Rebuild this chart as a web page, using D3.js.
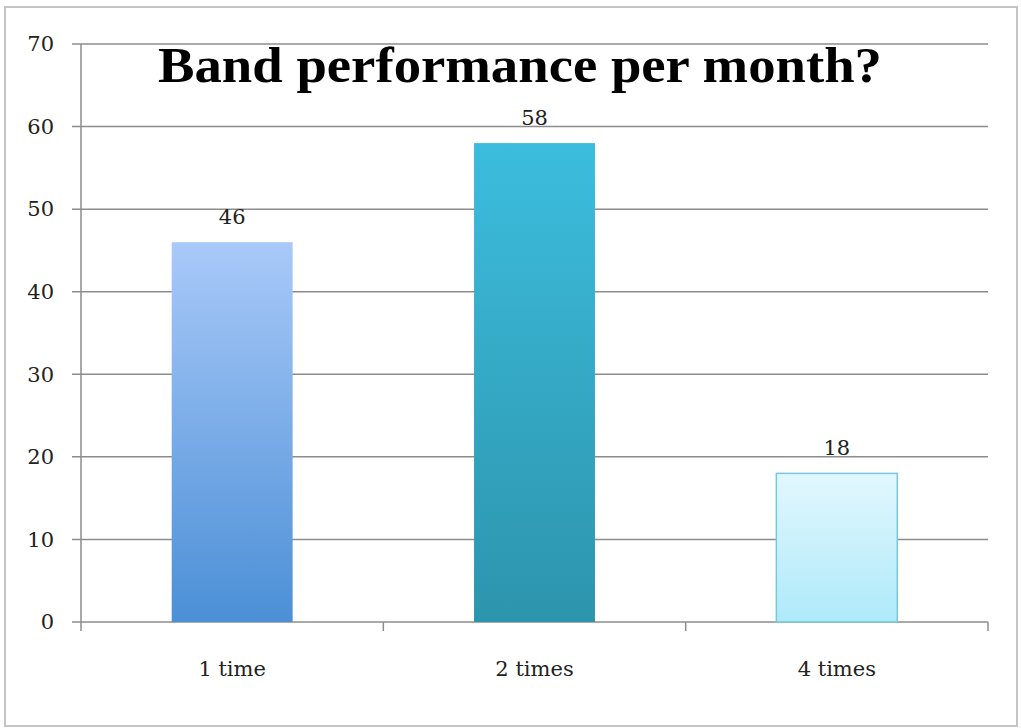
<!DOCTYPE html>
<html>
<head>
<meta charset="utf-8">
<script src="https://cdn.jsdelivr.net/npm/d3@7"></script>
<style>
  body { margin: 0; background: #fff; }
  svg { display: block; }
</style>
</head>
<body>
<svg id="chart" width="1021" height="728"></svg>
<script>
const categories = ["1 time", "2 times", "4 times"];
const values = [46, 58, 18];
const yTicks = [0, 10, 20, 30, 40, 50, 60, 70];
const title = "Band performance per month?";

const width = 1021, height = 728;
const margin = { top: 44, right: 33, bottom: 106, left: 81 };
const font = "'DejaVu Serif', 'Liberation Serif', serif";
const titleFont = "'Liberation Serif', 'DejaVu Serif', serif";

const fills = [
  { top: "#a9c9f9", bottom: "#4b8fd6", stroke: "none" },
  { top: "#3cbddd", bottom: "#2d94ad", stroke: "none" },
  { top: "#e2f7fe", bottom: "#aeeaf9", stroke: "#7cc6d9" }
];

const svg = d3.select("#chart");

// outer frame
svg.append("rect")
  .attr("x", 5).attr("y", 7)
  .attr("width", width - 9).attr("height", height - 9)
  .attr("fill", "none")
  .attr("stroke", "#c4c4c4")
  .attr("stroke-width", 2);

const defs = svg.append("defs");
fills.forEach((f, i) => {
  const g = defs.append("linearGradient")
    .attr("id", `grad${i}`)
    .attr("x1", 0).attr("y1", 0).attr("x2", 0).attr("y2", 1);
  g.append("stop").attr("offset", "0%").attr("stop-color", f.top);
  g.append("stop").attr("offset", "100%").attr("stop-color", f.bottom);
});

const x = d3.scaleBand()
  .domain(categories)
  .range([margin.left, width - margin.right])
  .paddingInner(0)
  .paddingOuter(0);

const y = d3.scaleLinear()
  .domain([0, 70])
  .range([height - margin.bottom, margin.top]);

// grid lines
svg.append("g")
  .attr("class", "grid")
  .selectAll("line")
  .data(yTicks)
  .join("line")
  .attr("x1", margin.left - 9)
  .attr("x2", width - margin.right)
  .attr("y1", d => y(d)).attr("y2", d => y(d))
  .attr("stroke", "#8c8c8c")
  .attr("stroke-width", 1.5);

// y tick labels
svg.append("g")
  .selectAll("text")
  .data(yTicks)
  .join("text")
  .attr("x", 54)
  .attr("y", d => y(d))
  .attr("dy", "0.35em")
  .attr("text-anchor", "end")
  .attr("font-family", font)
  .attr("font-size", 21)
  .attr("fill", "#222")
  .text(d => d);

// y axis line
svg.append("line")
  .attr("x1", margin.left).attr("x2", margin.left)
  .attr("y1", y(70)).attr("y2", y(0))
  .attr("stroke", "#8c8c8c")
  .attr("stroke-width", 1.5);

// x axis category boundary ticks
const bounds = categories.map(c => x(c)).concat([x.range()[1]]);
svg.append("g")
  .selectAll("line")
  .data(bounds)
  .join("line")
  .attr("x1", d => d).attr("x2", d => d)
  .attr("y1", y(0)).attr("y2", y(0) + 9)
  .attr("stroke", "#8c8c8c")
  .attr("stroke-width", 1.5);

// bars
const barW = x.bandwidth() * 0.4;
svg.append("g")
  .selectAll("rect")
  .data(values)
  .join("rect")
  .attr("x", (d, i) => x(categories[i]) + (x.bandwidth() - barW) / 2)
  .attr("y", d => y(d))
  .attr("width", barW)
  .attr("height", d => y(0) - y(d))
  .attr("fill", (d, i) => `url(#grad${i})`)
  .attr("stroke", (d, i) => fills[i].stroke)
  .attr("stroke-width", 1.5);

// value labels
svg.append("g")
  .selectAll("text")
  .data(values)
  .join("text")
  .attr("x", (d, i) => x(categories[i]) + x.bandwidth() / 2)
  .attr("y", d => y(d) - 18)
  .attr("text-anchor", "middle")
  .attr("font-family", font)
  .attr("font-size", 21)
  .attr("fill", "#222")
  .text(d => d);

// category labels
svg.append("g")
  .selectAll("text")
  .data(categories)
  .join("text")
  .attr("x", d => x(d) + x.bandwidth() / 2)
  .attr("y", 676)
  .attr("text-anchor", "middle")
  .attr("font-family", font)
  .attr("font-size", 21)
  .attr("fill", "#222")
  .text(d => d);

// title
svg.append("text")
  .attr("x", 520)
  .attr("y", 82)
  .attr("text-anchor", "middle")
  .attr("font-family", titleFont)
  .attr("font-weight", "bold")
  .attr("font-size", 50)
  .attr("fill", "#000")
  .attr("textLength", 724)
  .attr("lengthAdjust", "spacingAndGlyphs")
  .text(title);
</script>
</body>
</html>
